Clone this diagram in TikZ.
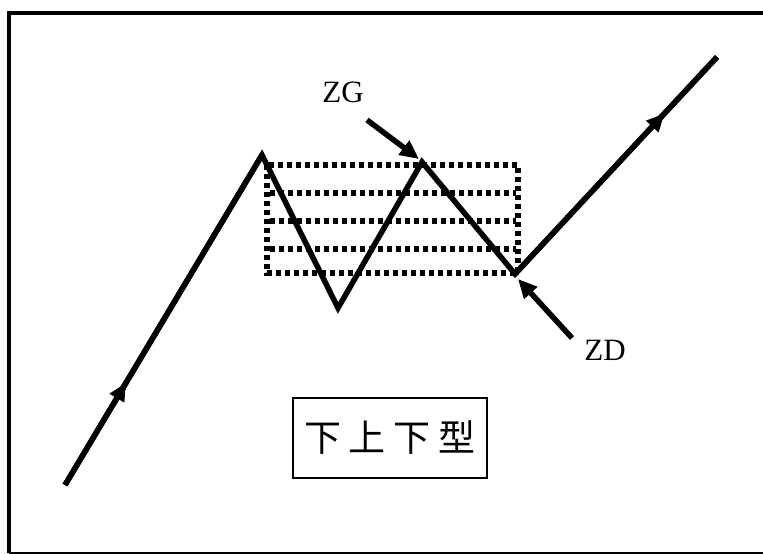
\documentclass[tikz,border=0pt]{standalone}
\usepackage{fontspec}
\setmainfont{Liberation Serif}
\newfontfamily\cjk{Noto Sans CJK SC}
\usetikzlibrary{arrows.meta,decorations.markings}

\begin{document}
\begin{tikzpicture}[x=1pt, y=-1pt, >=Triangle,
  trend/.style={line width=5.5pt, line join=miter},
  midarrow/.style={line width=5.5pt, decoration={markings,
    mark=at position #1 with {\arrow{Triangle[length=18pt,width=16pt]}}},
    postaction={decorate}},
  ptr/.style={line width=5.5pt, -{Triangle[length=19pt,width=17pt]}},
  zone/.style={line width=5.5pt, dash pattern=on 5pt off 4pt},
  lbl/.style={font=\fontsize{31}{31}\selectfont, inner sep=0pt}]
  \useasboundingbox (0,0) rectangle (763,554);
  % frame
  \draw[line width=4pt] (9,553) -- (9,12.5) -- (780,12.5);
  \draw[line width=2pt] (9,553) -- (780,553);
  % consolidation zone
  \draw[zone] (267,165) rectangle (518,273);
  \foreach \yy in {193,221,249}
    \draw[zone] (270,\yy) -- (516,\yy);
  % price path
  \coordinate (s)  at (65,485);
  \coordinate (p1) at (262,155);
  \coordinate (t1) at (338,308);
  \coordinate (p2) at (422,162);
  \coordinate (t2) at (515,274);
  \coordinate (e)  at (717,57);
  \draw[trend] (s) -- (p1) -- (t1) -- (p2) -- (t2) -- (e);
  \draw[midarrow=0.31] (s) -- (p1);
  \draw[midarrow=0.74] (t2) -- (e);
  % labels
  \node[lbl] (zg) at (343,92)  {ZG};
  \node[lbl] (zd) at (605,350) {ZD};
  \coordinate (zgtail) at (367,120);
  \coordinate (zdtail) at (572,338);
  \draw[ptr] (zgtail) -- ([shift={(-3,-3)}]p2);
  \draw[ptr] (zdtail) -- ([shift={(3,5)}]t2);
  \node[draw, line width=1.5pt, minimum width=194pt, minimum height=80pt,
    font=\cjk\fontsize{37}{37}\selectfont] (type) at (390,438)
    {下\hspace{8pt}上\hspace{8pt}下\hspace{8pt}型};
\end{tikzpicture}
\end{document}
